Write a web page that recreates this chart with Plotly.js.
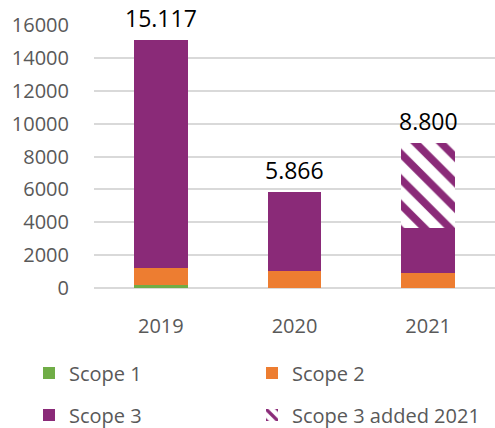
<!DOCTYPE html>
<html>
<head>
<meta charset="utf-8">
<script src="https://cdn.plot.ly/plotly-3.0.1.min.js"></script>
<style>html,body{margin:0;padding:0;background:#fff;}#chart{width:495px;height:428px;}</style>
</head>
<body>
<div id="chart"></div>
<script>
const years = ["2019", "2020", "2021"];
const scope1 = [180, 30, 20];
const scope2 = [1040, 1004, 910];
const scope3 = [13897, 4832, 2700];
const scope3Added = [0, 0, 5170];
const yTicks = [0, 2000, 4000, 6000, 8000, 10000, 12000, 14000, 16000];

const totals = years.map((_, i) => scope1[i] + scope2[i] + scope3[i] + scope3Added[i]);
const fmt = v => v.toLocaleString('de-DE');

const FONT = "Open Sans, Noto Sans, sans-serif";
const GREY = "#595959";
const PURPLE = "#8A2A78";

const traces = [
  {type: 'bar', name: 'Scope 1', x: years, y: scope1, marker: {color: '#70AD47'}, legend: 'legend', hoverinfo: 'skip'},
  {type: 'bar', name: 'Scope 2', x: years, y: scope2, marker: {color: '#ED7D31'}, legend: 'legend2', hoverinfo: 'skip'},
  {type: 'bar', name: 'Scope 3', x: years, y: scope3, marker: {color: PURPLE}, legend: 'legend3', hoverinfo: 'skip'},
  {type: 'bar', name: 'Scope 3 added 2021', x: years, y: scope3Added,
   marker: {color: PURPLE, pattern: {shape: '\\', fgcolor: PURPLE, bgcolor: 'white', fgopacity: 1, size: 18, solidity: 0.42, fillmode: 'replace'}},
   legend: 'legend4', hoverinfo: 'skip'}
];

// annotations placed by category index so "2019" is not read as a numeric position
const annotations = years.map((yr, i) => ({
  x: i, y: totals[i], xref: 'x', yref: 'y', text: fmt(totals[i]),
  showarrow: false, yanchor: 'bottom', yshift: 4,
  font: {family: FONT, size: 23, color: '#000'}
}));

const WIDTH = 495, HEIGHT = 428;
function legendAt(px, py) {
  return {
    orientation: 'h', xref: 'container', yref: 'container', xanchor: 'left', yanchor: 'middle', traceorder: 'normal',
    x: px / WIDTH, y: 1 - py / HEIGHT,
    font: {family: FONT, size: 20, color: GREY}, bgcolor: 'rgba(0,0,0,0)'
  };
}

const layout = {
  width: WIDTH, height: HEIGHT,
  margin: {l: 94, r: 0, t: 25, b: 140, autoexpand: false},
  paper_bgcolor: 'white', plot_bgcolor: 'white',
  barmode: 'stack', bargap: 0.6,
  showlegend: true,
  font: {family: FONT, color: GREY},
  xaxis: {type: 'category', range: [-0.5, 2.5], showgrid: false, zeroline: false, showline: false,
          ticks: 'outside', ticklen: 20, tickcolor: 'rgba(0,0,0,0)',
          tickfont: {family: FONT, size: 20, color: GREY}},
  yaxis: {range: [0, 16000], tickvals: yTicks, ticktext: yTicks.map(String), showgrid: true,
          gridcolor: '#D9D9D9', gridwidth: 1.5, zeroline: true, zerolinecolor: '#D9D9D9', zerolinewidth: 1.5,
          showline: false, ticks: 'outside', ticklen: 20, tickcolor: 'rgba(0,0,0,0)',
          tickfont: {family: FONT, size: 20, color: GREY}},
  legend: legendAt(29, 373),
  legend2: legendAt(252, 373),
  legend3: legendAt(29, 415),
  legend4: legendAt(252, 415),
  annotations: annotations
};

Plotly.newPlot('chart', traces, layout, {displayModeBar: false});
</script>
</body>
</html>
